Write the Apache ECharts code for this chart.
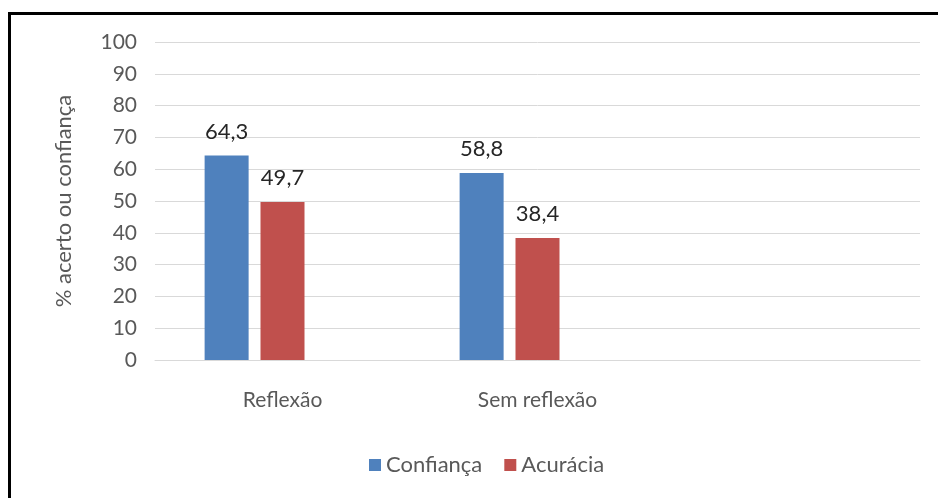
<!DOCTYPE html>
<html>
<head>
<meta charset="utf-8">
<script src="https://cdn.jsdelivr.net/npm/echarts@6/dist/echarts.min.js"></script>
<style>
  html, body { margin: 0; padding: 0; background: #fff; }
  #chart { width: 938px; height: 498px; }
</style>
</head>
<body>
<div id="chart"></div>
<script>
  // dados
  const categories = ['Reflexão', 'Sem reflexão', ''];
  const confianca = [64.3, 58.8, null];
  const acuracia = [49.7, 38.4, null];
  const vazio = [null, null, null];   // série vazia (ocupa o terceiro lugar do grupo)
  const yTicks = { min: 0, max: 100, interval: 10 };

  const font = 'Lato, "Open Sans", sans-serif';
  const grey = '#595959';

  let mychart = echarts.init(document.getElementById('chart'));

  const labelCfg = {
    show: true,
    position: 'top',
    distance: 13,
    fontFamily: font,
    fontSize: 22,
    color: '#262626',
    formatter: p => String(p.value).replace('.', ',')
  };

  let option = {
    animation: false,
    graphic: [{
      type: 'rect',
      silent: true,
      shape: { x: 9.5, y: 13.5, width: 1200, height: 800 },
      style: { fill: 'none', stroke: '#000', lineWidth: 3 }
    }],
    legend: {
      data: ['Confiança', 'Acurácia'],
      bottom: 17,
      left: 364,
      icon: 'rect',
      itemWidth: 12,
      itemHeight: 12,
      itemGap: 22,
      textStyle: { fontFamily: font, fontSize: 22, color: grey }
    },
    grid: { left: 155, right: 18, top: 42, bottom: 138 },
    xAxis: {
      type: 'category',
      data: categories,
      axisLine: { lineStyle: { color: '#d9d9d9', width: 1 } },
      axisTick: { show: false },
      axisLabel: { fontFamily: font, fontSize: 21, color: grey, margin: 30 }
    },
    yAxis: {
      type: 'value',
      min: yTicks.min,
      max: yTicks.max,
      interval: yTicks.interval,
      name: '% acerto ou confiança',
      nameLocation: 'middle',
      nameGap: 80,
      nameTextStyle: { fontFamily: font, fontSize: 22, color: grey },
      axisLine: { show: false },
      axisTick: { show: false },
      axisLabel: { fontFamily: font, fontSize: 21, color: grey, margin: 18 },
      splitLine: { lineStyle: { color: '#d9d9d9', width: 1 } }
    },
    series: [
      {
        name: 'Confiança',
        type: 'bar',
        data: confianca,
        barWidth: 44,
        barGap: '27%',
        itemStyle: { color: '#4F81BD' },
        label: labelCfg
      },
      {
        name: 'Acurácia',
        type: 'bar',
        data: acuracia,
        barWidth: 44,
        barGap: '27%',
        itemStyle: { color: '#C0504D' },
        label: labelCfg
      },
      {
        name: 'vazio',
        type: 'bar',
        data: vazio,
        barWidth: 44,
        barGap: '27%'
      }
    ]
  };
  mychart.setOption(option);
</script>
</body>
</html>
